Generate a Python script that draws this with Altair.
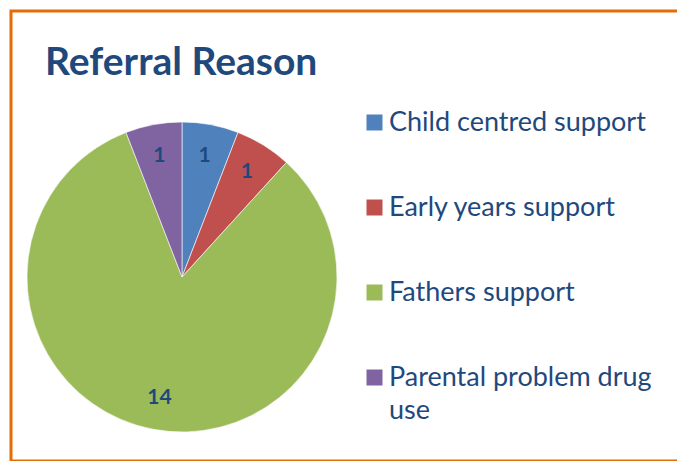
import altair as alt
import pandas as pd

title_text = "Referral Reason"
categories = ["Child centred support", "Early years support", "Fathers support", "Parental problem drug use"]
counts = [1, 1, 14, 1]
colors = ["#4F81BD", "#C0504D", "#9BBB59", "#8064A2"]

df = pd.DataFrame({"category": categories, "count": counts, "idx": list(range(len(categories)))})
tdf = pd.DataFrame({"t": [title_text]})

CX, CY = 171, 266

arc = alt.Chart(df).mark_arc(outerRadius=155, stroke="#ffffff", strokeWidth=0.6).encode(
    theta=alt.Theta("count:Q", stack=True),
    order=alt.Order("idx:Q"),
    color=alt.Color(
        "category:N",
        scale=alt.Scale(domain=categories, range=colors),
        legend=alt.Legend(
            title=None,
            orient="none",
            legendX=350,
            legendY=98,
            symbolType="square",
            symbolSize=256,
            symbolStrokeWidth=0,
            symbolOpacity=1,
            labelFont="Lato",
            labelFontSize=27,
            labelColor="#1F497D",
            labelOffset=1,
            labelLimit=400,
            rowPadding=57,
            padding=0,
            labelExpr="datum.label == 'Parental problem drug use' ? ['Parental problem drug', 'use'] : datum.label",
        ),
    ),
    x=alt.value(CX),
    y=alt.value(CY),
)

labels = alt.Chart(df).mark_text(
    radius=123, font="Lato", fontWeight="bold", fontSize=21, color="#1F497D", baseline="middle", align="center"
).encode(
    theta=alt.Theta("count:Q", stack=True),
    order=alt.Order("idx:Q"),
    text="count:Q",
    x=alt.value(CX),
    y=alt.value(CY),
)

title = alt.Chart(tdf).mark_text(
    font="Lato", fontWeight="bold", fontSize=39, color="#1F497D", align="left", baseline="alphabetic"
).encode(text="t:N", x=alt.value(34), y=alt.value(64))

chart = alt.layer(arc, labels, title).properties(
    width=800,
    height=450,
    padding={"left": 3, "top": 3, "right": -134, "bottom": 0},
    autosize="none",
).configure(
    style={"guide-label": {"lineHeight": 33}}
).configure_view(stroke="#E36C09", strokeWidth=3)

chart.save("out.html", embed_options={"renderer": "svg", "actions": False})
